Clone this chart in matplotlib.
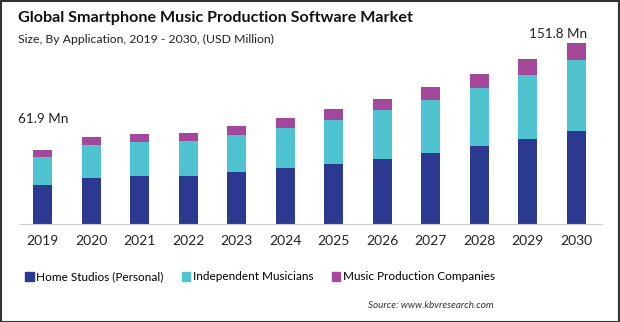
import matplotlib.pyplot as plt
import numpy as np

years = ['2019', '2020', '2021', '2022', '2023', '2024',
         '2025', '2026', '2027', '2028', '2029', '2030']
home_studios = [32.4, 38.5, 40.2, 40.2, 43.5, 46.9, 50.2, 54.4, 59.4, 65.3, 71.1, 77.8]
independent = [23.8, 27.9, 28.4, 29.3, 31.2, 33.4, 36.8, 41.0, 44.4, 48.5, 53.6, 59.4]
companies = [5.7, 6.7, 6.7, 6.7, 7.6, 8.4, 9.2, 9.2, 10.8, 11.7, 13.4, 14.6]
series_names = ['Home Studios (Personal)', 'Independent Musicians', 'Music Production Companies']
colors = ['#2B3990', '#4FC3CF', '#A4489C']

W, H = 620, 322
fig = plt.figure(figsize=(W / 100, H / 100), dpi=100)
plt.rcParams['font.family'] = ['Lato', 'DejaVu Sans']

# axes placed in pixel terms: baseline at y=224, 1.195 px per unit
ymax = 160
top_px = 224 - ymax * 1.195
ax = fig.add_axes([20 / W, (H - 224) / H, (602 - 20) / W, (224 - top_px) / H])

x = np.arange(len(years))
w = 0.39
bottom = np.zeros(len(years))
for vals, name, c in zip([home_studios, independent, companies], series_names, colors):
    ax.bar(x, vals, w, bottom=bottom, color=c, label=name)
    bottom += np.array(vals)

totals = bottom
ax.annotate(f'{totals[0]:.1f} Mn', (x[0], totals[0]), xytext=(0, 22), textcoords='offset points',
            ha='center', va='center', fontsize=9.7, color='#222222')
ax.annotate(f'{totals[-1]:.1f} Mn', (x[-1], totals[-1]), xytext=(-13, 6), textcoords='offset points',
            ha='center', va='center', fontsize=9.7, color='#222222')

ax.set_xlim(-0.47, 11.53)
ax.set_ylim(0, ymax)
ax.set_xticks(x)
ax.set_xticklabels(years, fontsize=10, color='#222222')
ax.tick_params(axis='x', length=0, pad=8)
ax.set_yticks([])
for s in ['top', 'right', 'left']:
    ax.spines[s].set_visible(False)
ax.spines['bottom'].set_color('#d0d0d0')

fig.text(18 / W, 1 - 18 / H, 'Global Smartphone Music Production Software Market',
         fontsize=11.6, fontweight='bold', color='#111111', va='center')
fig.text(18 / W, 1 - 39 / H, 'Size, By Application, 2019 - 2030, (USD Million)',
         fontsize=8.8, color='#222222', va='center')

handles = [plt.Rectangle((0, 0), 1, 1, color=c) for c in colors]
fig.legend(handles, series_names, loc='center', bbox_to_anchor=(260 / W, 1 - 277 / H),
           ncol=3, frameon=False, fontsize=8.5, handlelength=0.75, handleheight=0.75,
           handletextpad=0.25, columnspacing=1.5, borderaxespad=0, borderpad=0)

fig.text(494 / W, 1 - 305 / H, 'Source: www.kbvresearch.com', fontsize=7.1,
         style='italic', color='#333333', ha='right', va='center')

fig.add_artist(plt.Rectangle((0.5 / W, 0.5 / H), 1 - 1.5 / W, 1 - 1.5 / H,
                             transform=fig.transFigure, fill=False, edgecolor='#333333', lw=1.5))

fig.savefig('out.png', dpi=100)
